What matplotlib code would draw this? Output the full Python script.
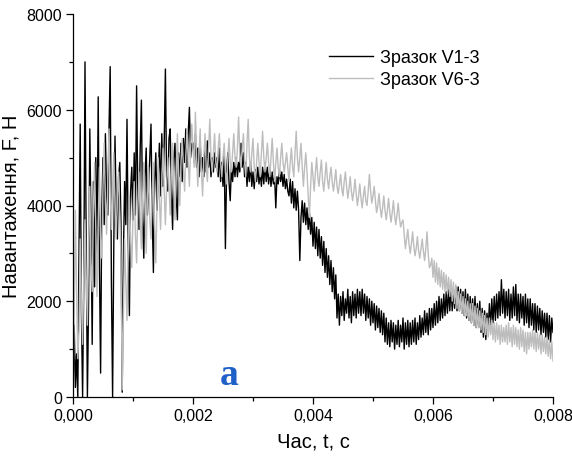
import numpy as np
import matplotlib
matplotlib.use("Agg")
import matplotlib.pyplot as plt
from matplotlib.ticker import MultipleLocator, FuncFormatter

plt.rcParams['font.family'] = ['Liberation Sans', 'DejaVu Sans']

# sampling step of the recorded force signals, s
dt = 0.00002

# Зразок V1-3, load F (N); one row = 0.0004 s
force_v1 = [
    0, 1500, 200, 900, 0, 3000, 5700, 1800, 0, 2500, 7000, 3200, 0, 2000, 5600, 3600, 1100, 4500, 2300, 5000,
    3000, 6270, 2800, 500, 3900, 5000, 3600, 5500, 4200, 3800, 5600, 6900, 2400, 0, 3200, 5450, 3900, 3300, 4600, 4900,
    3600, 100, 2900, 4500, 3600, 5800, 3200, 1700, 4300, 4800, 3700, 5100, 3800, 6500, 4200, 3500, 5200, 6200, 3700, 2900,
    4600, 5200, 3800, 4400, 5000, 5700, 3800, 2600, 4500, 5100, 3900, 4600, 5300, 4200, 5500, 4400, 5300, 6850, 4600, 4300,
    5400, 5600, 4300, 3500, 5000, 5300, 4200, 3700, 5100, 4600, 5300, 4500, 5400, 4900, 5600, 4800, 5500, 6050, 5000, 5300,
    5300, 4900, 5500, 4800, 5200, 4600, 5300, 4700, 5000, 4600, 5200, 4700, 5350, 4800, 5100, 4600, 5000, 4700, 5100, 4800,
    5000, 4600, 5200, 4500, 4900, 4400, 5100, 3100, 4700, 5100, 4500, 4100, 4800, 4500, 4900, 4600, 5000, 4600, 4900, 4700,
    5300, 4800, 5100, 4600, 4900, 4400, 4800, 4500, 4900, 4400, 4700, 4350, 4750, 4500, 4800, 4450, 4700, 4400, 4800, 4450,
    4900, 4500, 4800, 4450, 4750, 4400, 4700, 4450, 4600, 3950, 4600, 4450, 4750, 4500, 4700, 4400, 4650, 4350, 4550, 4300,
    4200, 4550, 4050, 4500, 3950, 4350, 3900, 4300, 3900, 2850, 3750, 4100, 3650, 4050, 3600, 3950, 3500, 3850, 3400, 3750,
    3150, 3650, 3100, 3550, 2950, 3500, 2900, 3350, 2750, 3250, 2600, 3100, 2500, 2950, 2350, 2850, 2200, 2700, 2050, 2550,
    1650, 2150, 1500, 2100, 1700, 2200, 1600, 2050, 1750, 2250, 1650, 2100, 1550, 2200, 1700, 2150, 1650, 2250, 1750, 2200,
    1700, 2250, 1750, 2150, 1600, 2100, 1650, 2050, 1500, 2000, 1550, 1950, 1400, 1900, 1450, 1850, 1350, 1800, 1300, 1750,
    1150, 1650, 1100, 1550, 1050, 1600, 1150, 1550, 1000, 1500, 1100, 1600, 1050, 1500, 1150, 1650, 1000, 1550, 1100, 1600,
    1050, 1550, 1100, 1600, 1150, 1650, 1100, 1550, 1200, 1700, 1250, 1650, 1300, 1800, 1350, 1750, 1300, 1850, 1400, 1850,
    1450, 1950, 1500, 2000, 1550, 2100, 1600, 2050, 1650, 2150, 1700, 2200, 1750, 2250, 1800, 2300, 1800, 2250, 1850, 2300,
    1800, 2300, 1800, 2250, 1750, 2200, 1700, 2250, 1650, 2150, 1600, 2100, 1550, 2050, 1500, 2100, 1450, 1950, 1450, 2000,
    1350, 1850, 1250, 1800, 1200, 1750, 1400, 1950, 1450, 2050, 1550, 2100, 1600, 2150, 1650, 2200, 1700, 2450, 1750, 2250,
    1650, 2200, 1700, 2250, 1600, 2150, 1650, 2300, 1700, 2350, 1600, 2150, 1550, 2150, 1650, 2100, 1500, 2150, 1550, 2050,
    1450, 2050, 1500, 1950, 1400, 1950, 1350, 1900, 1400, 1850, 1300, 1800, 1350, 1750, 1250, 1750, 1200, 1700, 1150, 1650,
    1350,
]

# Зразок V6-3, load F (N); one row = 0.0004 s
force_v6 = [
    0, 1800, 3900, 2200, 800, 1400, 3300, 2000, 1100, 2600, 3700, 2500, 1500, 3200, 4400, 2800, 2200, 3900, 4900, 3500,
    2100, 3600, 4800, 3300, 2900, 4400, 5300, 4000, 3400, 4500, 5600, 4300, 3500, 4400, 5100, 4000, 3300, 4200, 4700, 3800,
    2900, 150, 1800, 3300, 2400, 1600, 3000, 4200, 3300, 2700, 3800, 4500, 3400, 2800, 3900, 4700, 3700, 3100, 4200, 4900,
    3900, 3000, 4100, 4800, 3700, 3300, 4300, 4900, 3600, 2800, 4000, 5000, 4100, 3500, 4500, 5200, 4300, 3600, 4400, 5000,
    4400, 3800, 4700, 5300, 4300, 3700, 4800, 5500, 4700, 4000, 4900, 5400, 4800, 4300, 5000, 5600, 4900, 4400, 5200, 5700,
    5200, 4800, 5950, 5000, 4400, 5100, 5600, 4700, 4200, 5000, 5500, 4800, 4500, 5200, 5800, 5000, 4700, 5100, 5500, 4900,
    4700, 5200, 5500, 4900, 4600, 5000, 5300, 4700, 4450, 5000, 5400, 4900, 4700, 5100, 5500, 5000, 4800, 5200, 5850, 5100,
    4800, 5200, 5500, 4900, 4600, 5300, 5800, 5000, 4700, 5100, 5400, 4800, 4500, 4900, 5300, 4900, 4600, 5100, 5550, 5000,
    4700, 5000, 5300, 4900, 4600, 5000, 5400, 4900, 4500, 4900, 5200, 4800, 4600, 5000, 5300, 4900, 4700, 4900, 5100, 4800,
    4500, 4900, 5200, 4800, 4600, 5100, 5550, 5000, 4700, 5000, 5300, 4800, 4400, 4800, 5100, 4700, 4200, 3750, 4400, 4900,
    4600, 4300, 4700, 5000, 4600, 4400, 4700, 4950, 4500, 4300, 4600, 4900, 4550, 4350, 4600, 4800, 4500, 4300, 4500, 4750,
    4400, 4250, 4450, 4650, 4350, 4200, 4500, 4700, 4400, 4150, 4350, 4600, 4300, 4100, 4300, 4550, 4250, 4000, 4200, 4450,
    4150, 3950, 4200, 4400, 4100, 4000, 4300, 4650, 4300, 4050, 4200, 4400, 4100, 3850, 4000, 4250, 3950, 3750, 3950, 4200,
    3900, 3700, 3900, 4150, 3850, 3650, 3850, 4100, 3800, 3600, 3800, 4050, 3750, 3550, 3650, 3700, 3400, 3100, 3300, 3500,
    3200, 3000, 3200, 3450, 3150, 2950, 3100, 3350, 3050, 2900, 3100, 3300, 3050, 2850, 3100, 3450, 3000, 2700, 2750, 2900,
    2500, 2850, 2400, 2800, 2350, 2700, 2300, 2650, 2250, 2600, 2200, 2550, 2150, 2500, 2100, 2450, 2000, 2400, 1950, 2350,
    1850, 2200, 1800, 2150, 1750, 2100, 1700, 2050, 1700, 2000, 1600, 1950, 1550, 1950, 1500, 1900, 1450, 1850, 1450, 1800,
    1400, 1750, 1350, 1700, 1300, 1650, 1250, 1650, 1300, 1600, 1200, 1550, 1150, 1550, 1200, 1500, 1100, 1500, 1150, 1450,
    1150, 1500, 1100, 1550, 1150, 1450, 1050, 1500, 1100, 1450, 1050, 1400, 1000, 1450, 1050, 1400, 950, 1350, 900, 1350,
    1000, 1350, 1050, 1400, 1000, 1350, 950, 1350, 1000, 1300, 900, 1300, 950, 1250, 900, 1250, 850, 1200, 800, 1150,
    750,
]

labels = ["Зразок V1-3", "Зразок V6-3"]
colors = ["#000000", "#bdbdbd"]

t_v1 = np.arange(len(force_v1)) * dt
t_v6 = np.arange(len(force_v6)) * dt

fig = plt.figure(figsize=(5.72, 4.60), dpi=100)
ax = fig.add_axes([73 / 572, 62 / 460, 480 / 572, 383 / 460])

ax.plot(t_v1, force_v1, color=colors[0], lw=1.0, label=labels[0])
ax.plot(t_v6, force_v6, color=colors[1], lw=1.0, label=labels[1])

ax.set_xlim(0, 0.008)
ax.set_ylim(0, 8000)

ax.xaxis.set_major_locator(MultipleLocator(0.002))
ax.xaxis.set_minor_locator(MultipleLocator(0.001))
ax.yaxis.set_major_locator(MultipleLocator(2000))
ax.yaxis.set_minor_locator(MultipleLocator(1000))
ax.xaxis.set_major_formatter(FuncFormatter(lambda v, p: f"{v:.3f}".replace('.', ',')))
ax.yaxis.set_major_formatter(FuncFormatter(lambda v, p: f"{v:.0f}"))

for side in ("top", "right"):
    ax.spines[side].set_visible(False)
for side in ("left", "bottom"):
    ax.spines[side].set_linewidth(0.9)

ax.tick_params(which="major", direction="out", length=5, width=0.9, labelsize=11.5, pad=3)
ax.tick_params(which="minor", direction="out", length=3, width=0.9)

ax.set_xlabel("Час, t, с", fontsize=14.5, labelpad=6)
ax.set_ylabel("Навантаження, F, Н", fontsize=14.5, labelpad=4)

leg = ax.legend(loc="upper left", bbox_to_anchor=(0.50, 0.95), frameon=False,
                fontsize=13, handlelength=2.4, handletextpad=0.4, labelspacing=0.25)
for line in leg.get_lines():
    line.set_linewidth(1.0)

ax.text(0.0026, 270, "a", color="#1f5fc8", fontsize=27, fontweight="bold",
        family="Liberation Serif", ha="center", va="baseline")

fig.savefig("out.png", dpi=100)
